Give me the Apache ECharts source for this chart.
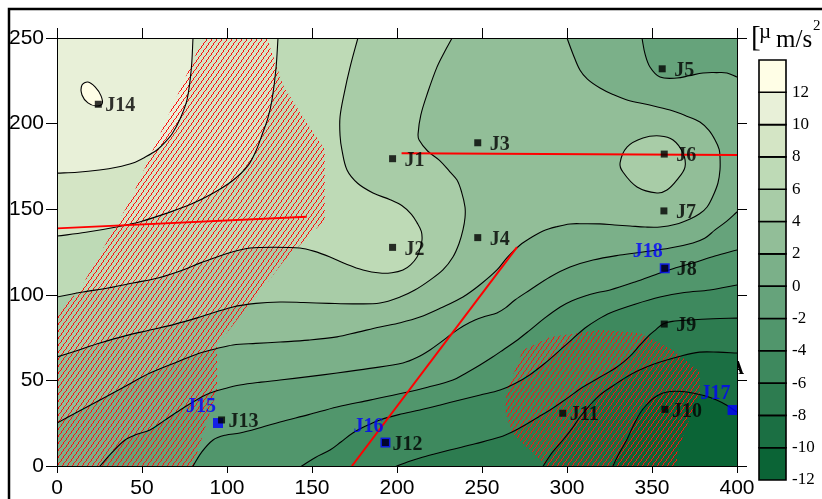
<!DOCTYPE html>
<html>
<head>
<meta charset="utf-8">
<script src="https://cdn.jsdelivr.net/npm/echarts@6/dist/echarts.min.js"></script>
<style>
html,body{margin:0;padding:0;background:#fff;}
#chart{width:822px;height:499px;}
</style>
</head>
<body>
<div id="chart"></div>
<script>
// contour levels [µm/s²] and band colours (lowest band first)
var levels = [-12, -10, -8, -6, -4, -2, 0, 2, 4, 6, 8, 10, 12, 14];
var bandColors = ['#0b6436', '#1b6f43', '#2d7c50', '#3e895e', '#51966c', '#66a37b', '#7bb089',
                  '#92be98', '#a8cca7', '#bedab6', '#d4e5c5', '#e8f0d8', '#fffee6'];

// contour lines (x, y in data units)
var contourM10 = [[327,0],[331,8],[335,15],[339,23.5],[343,31],[347,36],[351,39.7],[356,42.5],[361,43.5],[368,43.5],[374,42.6],[381,41],[388,38.6],[394,35.5],[400,31.5]];
var contourM8 = [[286,0],[291,7.5],[297.6,15.2],[303,22],[307.6,28.6],[313,35],[319.4,41.5],[328,47.5],[337,53.2],[346,57.5],[354.7,60.7],[366,64],[378,66.5],[389,66.5],[400,66]];
var contourM6 = [[200,0],[206.5,2.5],[213.5,4.7],[222,7],[231,9.3],[246,13],[260.6,16.9],[268,20],[275.3,23.9],[283,28.5],[290,32.7],[300,39.5],[309.4,46.1],[319.5,52],[329.4,57.8],[337,64],[343,70.7],[348,76],[352,79.4],[356.5,83],[362,84.5],[372.4,85.3],[386,86],[400,86.4]];
var contourM4 = [[144,0],[152,5],[160.6,9.3],[167,14],[174,19.3],[182,23.5],[190,26.9],[201,30],[213.5,32.7],[225,35.5],[237,38.6],[249,41.5],[260.6,44.4],[270,48.5],[278,53.2],[287,60],[296,67.8],[303,74],[310.6,80.6],[318,85.5],[325.3,89.4],[340,94.5],[354.7,98.7],[369,101.3],[384,102.8],[400,105.7]];
var contourM2 = [[80,0],[85,8],[91.8,15.2],[99,18],[107.6,19.3],[120,22.5],[131.2,25.7],[148,30],[164.7,34.5],[184,38.5],[203.5,42.6],[218,46],[232.9,50.2],[241,54.5],[248.8,59],[256,63.5],[262.4,67.8],[270,73],[278.2,79.4],[287,86.5],[296,92.9],[303,96.5],[310.6,99.3],[318,101.3],[325.3,102.8],[340,107.5],[354.7,112.7],[364,115.8],[374,118.6],[387,122.7],[400,126.2]];
var contour0 = [[25.3,0],[32,7.5],[40,15.2],[47,18.5],[54.7,21],[63,26.5],[72.4,32.7],[81,38],[90,42.6],[99,45.3],[107.6,47.3],[120,49],[131.2,50.2],[148,52.2],[164.7,54.3],[184,57],[203.5,60.2],[212,63.5],[219.4,67.8],[226,72.5],[232.9,77.7],[239,81.8],[245.9,85.3],[252,87.5],[258.8,89.4],[264,92.5],[269.4,97],[278.2,102.8],[290,110.4],[301.8,116.2],[315.3,120.3],[331.2,123.2],[344.7,125],[360.6,127.3],[374.1,130.3],[381,133],[387.1,137.9],[394,143],[400,148.4]];
var contour0Top = [[344.1,250],[345.9,240.7],[348.8,233.1],[354.7,227.2],[364.7,226.6],[372,228],[380,229.6],[388,229.8],[394.1,229.6],[400,227.2]];
var contour2 = [[300,250],[303.5,240.7],[307.6,231.3],[312,226],[319.4,220.8],[327,217],[335.3,213.8],[348,211],[360.6,207.9],[370,204.5],[378.2,200.9],[383.5,196],[387.1,190.4],[389.5,185],[390,180.5],[390,173],[388.8,165.3],[386,158],[382.4,151.3],[378,147.3],[372.4,144.3],[364,141.2],[354.7,139.6],[346,139.6],[337.1,140.2],[328,140.8],[319.4,141.4],[310,141.5],[301.8,141.4],[294,139.8],[285.9,137.3],[279,133.5],[272.4,129.1],[265,122],[258.8,114.5],[249,106],[238.8,98.7],[226,92.4],[213.5,87],[202,83.7],[190,81.2],[177,78.2],[164.7,75.4],[148,73.5],[131.2,72.4],[117,71.6],[103.5,70.7],[94,68.6],[84.1,66],[70,60.5],[54.7,54.3],[40,46.5],[25.3,38.6],[12,31.5],[0,25.1]];
var contour4 = [[232.4,250],[228,242],[223.5,233],[218,218],[214,205],[212.4,194],[213,190.4],[218,184],[225,178.5],[231,172],[235.3,167],[238,160],[240,151.3],[240,145],[238.8,137.9],[236.5,130],[232.9,122.1],[227,114.5],[219.4,108.6],[210.5,102.8],[201.8,98.7],[190,95.2],[175,94.7],[160,95],[145,95.5],[131.2,95.8],[117,95],[103.5,92.9],[84.1,87],[70,83],[54.7,79.4],[40,76],[25.3,71.8],[12,67.5],[0,63.7]];
var island4 = [[331.2,177],[335.3,186.3],[344.7,191.6],[354.7,192.8],[362.4,190.4],[368.2,182.8],[369.4,174.6],[364.7,167.1],[358.8,161.2],[352.9,159.5],[341.2,163],[332.9,171.7]];
var contour6 = [[177,250],[172.4,233],[169,218],[166.5,204],[166.5,193],[167.6,184.6],[170.6,172.9],[177,165],[185.9,159.5],[196,155.5],[203,152],[208.5,147],[211.8,142],[214.3,137],[214.7,132],[213.5,126.5],[211.8,122.1],[208,117.5],[203.5,114.5],[197,112.9],[190,112.7],[180,114.5],[170,118],[160.6,122.1],[151,125.5],[142.9,127.3],[128,127.8],[113.5,127.3],[103,125],[94.1,122.1],[84,118.5],[74.1,114.5],[60,110],[44.7,106.9],[30,104],[15.3,101.6],[0,98.7]];
var contour8 = [[130,250],[128.8,232],[126.5,214],[124,203],[121,194.5],[117,184],[112,175],[103,166.5],[92,159.5],[79,153],[65,147.8],[50,143],[35,139.6],[17,136.5],[0,134.3]];
var contour10 = [[80,250],[79,232],[76.5,214],[72.5,203],[68,194.5],[63.5,189],[58.8,184.6],[52,180.5],[44.7,177],[35,174.5],[25,172.9],[12,171.6],[0,171.1]];
var island12 = [[14.7,222.5],[18.2,224.3],[22.4,221.4],[25.9,216.2],[26.5,211.5],[22.9,210.3],[18.2,212.1],[14.7,216.7]];

// hatched zones
var hatchWest = [[86,250],[123.5,250],[132.9,222.5],[145.9,202.1],[157.6,184.6],[157.6,143.7],[142.9,129.1],[132.9,119.2],[123.5,106.9],[113.5,95.2],[103.5,82.4],[94.1,70.7],[94.1,44.4],[80,0],[0,0],[0,89],[14,104],[43,155]];
var hatchEast = [[288.2,0],[278.2,9.3],[267.6,19.3],[263.5,32.7],[264.7,44.4],[274.1,67.8],[290,75.4],[319.4,79.4],[342.9,77.7],[362.4,67.8],[378.2,54.9],[378.2,41.5],[370.6,23.9],[364.7,7.6],[364.7,0]];

// red lines
var redLineA = [[0,138.8],[146.9,145.6]];
var redLineB = [[202.7,182.7],[400,181.7]];
var redLineC = [[173.5,0],[270.6,127.9]];

// points
var wellNames = ['J1','J2','J3','J4','J5','J6','J7','J8','J9','J10','J11','J12','J13','J14'];
var wellX = [197.4, 197.4, 247.5, 247.5, 356, 357.2, 357, 357.5, 357.2, 357.6, 297.5, 193.2, 96.8, 24.3];
var wellY = [179.5, 127.7, 188.8, 133.4, 232, 182.2, 149, 115.5, 82.9, 33.1, 30.8, 13.7, 26.9, 211.3];
var blueNames = ['J15','J16','J17','J18'];
var blueX = [94.7, 193.2, 397.4, 357.5];
var blueY = [25.1, 13.7, 32.7, 115.5];

var xMin = 0, xMax = 400, yMin = 0, yMax = 250;
var SMOOTH = 0.35;
var FAR = 80;

// open contours are run a little past the frame so the smoothing at the edge stays natural;
// everything outside the plot is clipped away
function ext(a, b) {
    var dx = a[0] - b[0], dy = a[1] - b[1], l = Math.sqrt(dx * dx + dy * dy);
    return [a[0] + dx / l * 10, a[1] + dy / l * 10];
}
function extended(line) {
    var n = line.length;
    return [ext(line[0], line[1])].concat(line, [ext(line[n - 1], line[n - 2])]);
}
function fromTopToLeft(line) { return extended(line).concat([[xMin - FAR, yMax + FAR]]); }
function fromBottomToRight(line) {
    return extended(line).concat([[xMax + FAR, yMax + FAR], [xMin - FAR, yMax + FAR], [xMin - FAR, yMin - FAR]]);
}

// filled areas z > level, painted from low to high: [level, points, smooth]
var regions = [
    [-12, [[xMin, yMin], [xMax, yMin], [xMax, yMax], [xMin, yMax]], 0],
    [-10, fromBottomToRight(contourM10), SMOOTH],
    [-8, fromBottomToRight(contourM8), SMOOTH],
    [-6, fromBottomToRight(contourM6), SMOOTH],
    [-4, fromBottomToRight(contourM4), SMOOTH],
    [-2, fromBottomToRight(contourM2), SMOOTH],
    [0, extended(contour0).concat(extended(contour0Top).reverse(), [[xMin - FAR, yMax + FAR], [xMin - FAR, yMin - FAR]]), SMOOTH],
    [2, fromTopToLeft(contour2), SMOOTH],
    [4, fromTopToLeft(contour4), SMOOTH],
    [4, island4, SMOOTH],
    [6, fromTopToLeft(contour6), SMOOTH],
    [8, fromTopToLeft(contour8), SMOOTH],
    [10, fromTopToLeft(contour10), SMOOTH],
    [12, island12, SMOOTH]
];

// [points, isLoop]
var contourLines = [
    [extended(contourM10), false], [extended(contourM8), false], [extended(contourM6), false],
    [extended(contourM4), false], [extended(contourM2), false], [extended(contour0), false],
    [extended(contour0Top), false], [extended(contour2), false], [extended(contour4), false],
    [island4, true], [extended(contour6), false], [extended(contour8), false],
    [extended(contour10), false], [island12, true]
];

// red hatch pattern, crisp 1px diagonal
var hatchCanvas = document.createElement('canvas');
hatchCanvas.width = 5;
hatchCanvas.height = 7;
var hctx = hatchCanvas.getContext('2d');
hctx.fillStyle = '#ff1010';
[[4, 0], [3, 1], [3, 2], [2, 3], [1, 4], [1, 5], [0, 6]].forEach(function (px) {
    hctx.fillRect(px[0], px[1], 1, 1);
});

var chart = echarts.init(document.getElementById('chart'), null, {renderer: 'canvas'});

var series = [];

series.push({
    type: 'custom',
    xAxisIndex: 0, yAxisIndex: 0,
    z: 1, silent: true, clip: true,
    data: regions.map(function (r, i) { return [i, 0]; }),
    renderItem: function (params, api) {
        var r = regions[params.dataIndex];
        return {
            type: 'polygon',
            shape: {points: r[1].map(function (p) { return api.coord(p); }), smooth: r[2]},
            style: {fill: bandColors[(r[0] + 12) / 2]}
        };
    }
});

var hatches = [hatchWest, hatchEast];
series.push({
    type: 'custom',
    xAxisIndex: 0, yAxisIndex: 0,
    z: 2, silent: true, clip: true,
    data: hatches.map(function (h, i) { return [i, 0]; }),
    renderItem: function (params, api) {
        return {
            type: 'polygon',
            shape: {points: hatches[params.dataIndex].map(function (p) { return api.coord(p); })},
            style: {fill: {image: hatchCanvas, repeat: 'repeat'}}
        };
    }
});

series.push({
    type: 'custom',
    xAxisIndex: 0, yAxisIndex: 0,
    z: 3, silent: true, clip: true,
    data: contourLines.map(function (c, i) { return [i, 0]; }),
    renderItem: function (params, api) {
        var c = contourLines[params.dataIndex];
        return {
            type: c[1] ? 'polygon' : 'polyline',
            shape: {points: c[0].map(function (p) { return api.coord(p); }), smooth: SMOOTH},
            style: {fill: null, stroke: '#000', lineWidth: 1.1}
        };
    }
});

[redLineA, redLineB, redLineC].forEach(function (line) {
    series.push({
        type: 'line', xAxisIndex: 0, yAxisIndex: 0,
        data: line, symbol: 'none', silent: true, z: 4,
        lineStyle: {color: '#ff0000', width: 2}
    });
});

// blue wells (drawn under the black squares)
series.push({
    type: 'scatter', xAxisIndex: 0, yAxisIndex: 0, z: 5,
    symbol: 'rect', symbolSize: 10,
    itemStyle: {color: '#0000ff'},
    data: blueNames.map(function (n, i) { return [blueX[i], blueY[i], n]; }),
    label: {
        show: true, position: 'inside', offset: [-17, -16],
        formatter: function (p) { return p.data[2]; },
        color: '#0000ff', fontFamily: 'Liberation Serif', fontWeight: 'bold', fontSize: 20,
        align: 'center', verticalAlign: 'middle'
    }
});

series.push({
    type: 'scatter', xAxisIndex: 0, yAxisIndex: 0, z: 6,
    symbol: 'rect', symbolSize: 7,
    itemStyle: {color: '#000'},
    data: wellNames.map(function (n, i) {
        return {
            value: [wellX[i], wellY[i], n],
            label: {offset: [n.length === 2 ? 12 : 7, 2]}
        };
    }),
    label: {
        show: true, position: 'inside',
        formatter: function (p) { return p.data.value[2]; },
        color: '#000', fontFamily: 'Liberation Serif', fontWeight: 'bold', fontSize: 20,
        align: 'left', verticalAlign: 'middle'
    }
});

// colour bar
series.push({
    type: 'custom',
    xAxisIndex: 2, yAxisIndex: 2,
    z: 2, silent: true,
    data: bandColors.map(function (c, i) { return [0.5, levels[i]]; }),
    renderItem: function (params, api) {
        var i = params.dataIndex;
        var p0 = api.coord([0, levels[i]]);
        var p1 = api.coord([1, levels[i + 1]]);
        return {
            type: 'rect',
            shape: {x: p0[0], y: p1[1], width: p1[0] - p0[0], height: p0[1] - p1[1]},
            style: {fill: bandColors[i], stroke: '#000', lineWidth: 1.6}
        };
    }
});

var axisCommon = {
    type: 'value', z: 10,
    axisLine: {show: true, onZero: false, lineStyle: {color: '#000', width: 1}},
    splitLine: {show: false}
};

var option = {
    animation: false,
    backgroundColor: '#fff',
    grid: [
        {left: 57, top: 38, width: 680, height: 428},
        {left: 759, top: 60, width: 27, height: 420}
    ],
    xAxis: [
        Object.assign({}, axisCommon, {
            gridIndex: 0, min: xMin, max: xMax, interval: 50, position: 'bottom',
            axisTick: {show: true, inside: false, length: 7, lineStyle: {color: '#000'}},
            axisLabel: {color: '#000', fontSize: 21, fontFamily: 'Liberation Sans', margin: 12}
        }),
        Object.assign({}, axisCommon, {
            gridIndex: 0, min: xMin, max: xMax, interval: 50, position: 'top',
            axisTick: {show: true, inside: false, length: 10, lineStyle: {color: '#000'}},
            axisLabel: {show: false}
        }),
        {gridIndex: 1, type: 'value', min: 0, max: 1, show: false}
    ],
    yAxis: [
        Object.assign({}, axisCommon, {
            gridIndex: 0, min: yMin, max: yMax, interval: 50, position: 'left',
            axisTick: {show: true, inside: false, length: 11, lineStyle: {color: '#000'}},
            axisLabel: {color: '#000', fontSize: 21, fontFamily: 'Liberation Sans', margin: 13}
        }),
        Object.assign({}, axisCommon, {
            gridIndex: 0, min: yMin, max: yMax, interval: 50, position: 'right',
            axisTick: {show: true, inside: false, length: 10, lineStyle: {color: '#000'}},
            axisLabel: {show: false}
        }),
        {
            gridIndex: 1, type: 'value', min: -12, max: 14, interval: 2, position: 'right',
            axisLine: {show: false}, axisTick: {show: false}, splitLine: {show: false},
            axisLabel: {
                color: '#000', fontSize: 17, fontFamily: 'Liberation Serif', margin: 6,
                formatter: function (v) { return v === 14 ? '' : String(v); }
            }
        }
    ],
    graphic: [
        {type: 'rect', z: 100, silent: true, shape: {x: 9, y: 9, width: 1000, height: 800},
         style: {fill: 'none', stroke: '#000', lineWidth: 2.5}},
        {type: 'text', z: 0, left: 731, top: 360, silent: true,
         style: {text: 'A', font: 'bold 18px "Liberation Serif"', fill: '#000'}},
        {type: 'text', z: 100, left: 751, top: 24, silent: true,
         style: {text: '[', font: '29px "Liberation Serif"', fill: '#000'}},
        {type: 'text', z: 100, left: 759, top: 22, silent: true,
         style: {text: 'µ', font: '21px "Liberation Serif"', fill: '#000'}},
        {type: 'text', z: 100, left: 776, top: 28, silent: true,
         style: {text: 'm/s', font: '25px "Liberation Serif"', fill: '#000'}},
        {type: 'text', z: 100, left: 813, top: 19, silent: true,
         style: {text: '2', font: '15px "Liberation Serif"', fill: '#000'}}
    ],
    series: series
};

chart.setOption(option);
</script>
</body>
</html>
